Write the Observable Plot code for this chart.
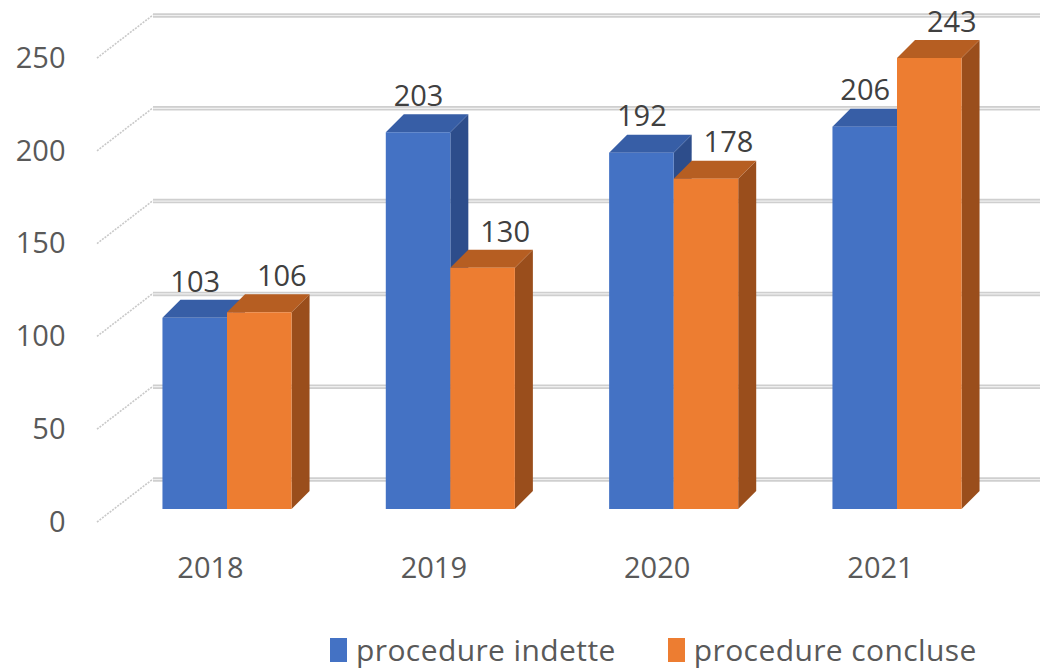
<!DOCTYPE html>
<html>
<head>
<meta charset="utf-8">
<script src="https://cdn.jsdelivr.net/npm/d3@7"></script>
<script src="https://cdn.jsdelivr.net/npm/@observablehq/plot@0.6"></script>
<style>
  html, body { margin: 0; padding: 0; background: #fff; overflow: hidden; }
  body { font-family: "Open Sans", "Noto Sans", sans-serif; width: 1040px; height: 671px; position: relative; }
  #legend { position: absolute; top: 630px; left: 330px; display: flex; align-items: center;
            font-size: 30px; line-height: 40px; letter-spacing: 0.4px; color: #595959; white-space: nowrap; }
  .item { display: flex; align-items: center; }
  .item + .item { margin-left: 52px; }
  .swatch { width: 17px; height: 24px; margin-right: 9px; }
</style>
</head>
<body>
<div id="chart"></div>
<div id="legend"></div>
<script>
// ---- data ----
const years = ["2018", "2019", "2020", "2021"];
const seriesNames = ["procedure indette", "procedure concluse"];
const indette = [103, 203, 192, 206];
const concluse = [106, 130, 178, 243];
const yTicks = [0, 50, 100, 150, 200, 250];

// ---- styles ----
const palette = [
  {front: "#4472c4", top: "#375ea6", side: "#2d4d8b"},
  {front: "#ed7d31", top: "#b65e22", side: "#9a4e1c"}
];
const BAR = 0.289;               // bar width as a fraction of the category step
const DEPTH = {dx: 18, dy: -18}; // 3-D bar depth (px)
const WALL = {dx: 60, dy: -30};  // back wall offset (px)

const rows = years.flatMap((year, i) => [
  {i, year, k: 0, series: seriesNames[0], value: indette[i]},
  {i, year, k: 1, series: seriesNames[1], value: concluse[i]}
]);

function bars3d(index, scales, values) {
  const g = d3.create("svg:g");
  for (const i of index) {
    const X1 = values.x1[i], X2 = values.x2[i], Y1 = values.y1[i], Y2 = values.y2[i];
    const c = palette[rows[i].k];
    const {dx, dy} = DEPTH;
    g.append("path")
      .attr("d", `M${X2},${Y1}L${X2 + dx},${Y1 + dy}L${X2 + dx},${Y2 + dy}L${X2},${Y2}Z`)
      .attr("fill", c.side);
    g.append("path")
      .attr("d", `M${X1},${Y2}L${X1 + dx},${Y2 + dy}L${X2 + dx},${Y2 + dy}L${X2},${Y2}Z`)
      .attr("fill", c.top);
    g.append("rect")
      .attr("x", X1).attr("y", Y2).attr("width", X2 - X1).attr("height", Y1 - Y2)
      .attr("fill", c.front);
  }
  return g.node();
}

function wallDiagonals(index, scales, values, dims) {
  const g = d3.create("svg:g");
  const x0 = dims.marginLeft + 4;
  for (const i of index) {
    const y = values.y[i];
    g.append("line")
      .attr("x1", x0).attr("y1", y + 13)
      .attr("x2", dims.marginLeft + WALL.dx).attr("y2", y + WALL.dy)
      .attr("stroke", "#c9c9c9").attr("stroke-width", 1.6)
      .attr("stroke-dasharray", "2,1.2");
  }
  return g.node();
}

const chart = Plot.plot({
  width: 1040,
  height: 610,
  marginLeft: 93,
  marginRight: 9,
  marginTop: 45,
  marginBottom: 101,
  style: {fontFamily: '"Open Sans", "Noto Sans", sans-serif', fontSize: "29px", color: "#595959", background: "#fff", overflow: "hidden"},
  x: {type: "linear", domain: [-0.6, 3.6]},
  y: {domain: [0, 250]},
  marks: [
    Plot.ruleY(yTicks, {dx: WALL.dx, dy: WALL.dy, stroke: "#cfcfcf", strokeWidth: 4.5}),
    Plot.ruleY(yTicks, {dx: WALL.dx, dy: WALL.dy, stroke: "#efefef", strokeWidth: 1.2}),
    Plot.ruleY(yTicks, {render: wallDiagonals}),
    Plot.rect(rows, {
      x1: d => d.i + (d.k - 1) * BAR,
      x2: d => d.i + d.k * BAR,
      y1: 0,
      y2: "value",
      render: bars3d
    }),
    Plot.text(rows.filter(d => d.k === 0), {
      x: d => d.i - BAR / 2, y: "value", text: d => String(d.value),
      dy: -36, fill: "#404040", fontSize: 29
    }),
    Plot.text(rows.filter(d => d.k === 1), {
      x: d => d.i + BAR / 2, y: "value", text: d => String(d.value),
      dy: -36, dx: 22, fill: "#404040", fontSize: 29
    }),
    Plot.axisY(yTicks, {tickSize: 0, tickPadding: 28, dy: 13, fontSize: 29, fill: "#595959", label: null}),
    Plot.axisX([0, 1, 2, 3], {tickSize: 0, tickPadding: 48, dx: -17, fontSize: 29, fill: "#595959",
      tickFormat: i => years[i], label: null})
  ]
});
document.getElementById("chart").append(chart);

const legend = document.getElementById("legend");
seriesNames.forEach((name, k) => {
  const item = document.createElement("div");
  item.className = "item";
  const sw = document.createElement("span");
  sw.className = "swatch";
  sw.style.background = palette[k].front;
  const label = document.createElement("span");
  label.textContent = name;
  item.append(sw, label);
  legend.append(item);
});
</script>
</body>
</html>
